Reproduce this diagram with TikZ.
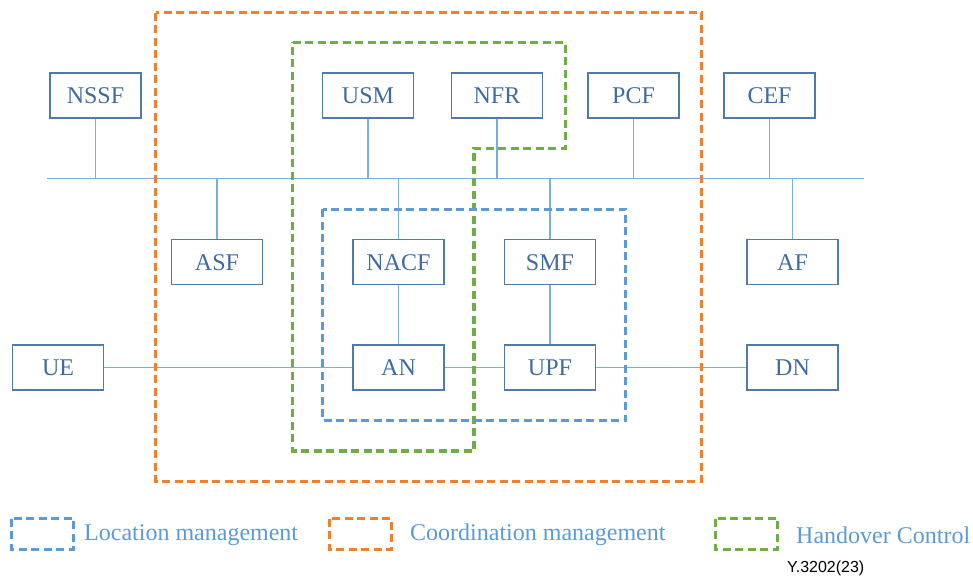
\documentclass[tikz,border=0pt]{standalone}
\usepackage{fontspec}
\setmainfont{Liberation Serif}
\newfontfamily\labelsans{Liberation Sans}
\definecolor{boxblue}{HTML}{5279A8}
\definecolor{txtblue}{HTML}{3F6B9E}
\definecolor{lineblue}{HTML}{7AAEE0}
\definecolor{zoneblue}{HTML}{5B9BD5}
\definecolor{zoneorange}{HTML}{F07F30}
\definecolor{zonegreen}{HTML}{70AD47}
\begin{document}
\begin{tikzpicture}[x=1pt,y=-1pt,
  nf/.style={draw=boxblue, line width=1.8pt, fill=white,
    minimum width=91pt, minimum height=45pt, inner sep=0pt,
    text=txtblue, font=\fontsize{24}{24}\selectfont,
    text height=16pt, text depth=0pt},
  link/.style={draw=lineblue, line width=1.5pt},
  zone/.style={line width=3.4pt, dash pattern=on 8pt off 4.5pt, line join=miter},
  legtext/.style={anchor=base west, inner sep=0pt, text=zoneblue,
    font=\fontsize{24}{24}\selectfont}]
\useasboundingbox (0,0) rectangle (973,575);

% service bus
\coordinate (busL) at (47,178.7);
\coordinate (busR) at (864,178.7);
\draw[link] (busL) -- (busR);

% network functions
\node[nf] (nssf) at (95.5,95.5) {NSSF};
\node[nf] (usm)  at (368,95.5) {USM};
\node[nf] (nfr)  at (497,95.5) {NFR};
\node[nf] (pcf)  at (633.5,95.5) {PCF};
\node[nf] (cef)  at (769.5,95.5) {CEF};
\node[nf] (asf)  at (217,262) {ASF};
\node[nf] (nacf) at (398.5,262) {NACF};
\node[nf] (smf)  at (550,262) {SMF};
\node[nf] (af)   at (792.5,262) {AF};
\node[nf] (ue)   at (58,367.5) {UE};
\node[nf] (an)   at (398.5,367.5) {AN};
\node[nf] (upf)  at (550,367.5) {UPF};
\node[nf] (dn)   at (792.5,367.5) {DN};

% bus attachments
\foreach \n in {nssf,usm,nfr,pcf,cef}
  \draw[link] (\n.south) -- (\n.south |- busL);
\foreach \n in {asf,nacf,smf,af}
  \draw[link] (\n.north) -- (\n.north |- busL);

% user plane and N2/N4 links
\draw[link] (ue) -- (an);
\draw[link] (an) -- (upf);
\draw[link] (upf) -- (dn);
\draw[link] (nacf) -- (an);
\draw[link] (smf) -- (upf);

% management zones
\draw[zone, draw=zoneorange] (155.7,12.7) rectangle (701.3,481.3);
\draw[zone, draw=zonegreen] (292.7,42.3) -- (565.3,42.3) -- (565.3,148.3)
  -- (474,148.3) -- (474,451) -- (292.7,451) -- cycle;
\draw[zone, draw=zoneblue] (322.7,209.3) rectangle (625.7,420.7);

% legend
\draw[zone, draw=zoneblue] (11.7,518.7) rectangle (73.7,549.3);
\node[legtext] (lgloc) at (84,540) {Location management};
\draw[zone, draw=zoneorange] (329.3,518.7) rectangle (391.7,549.3);
\node[legtext] (lgcoord) at (410,540) {Coordination management};
\draw[zone, draw=zonegreen] (715.7,518.7) rectangle (777.7,549.3);
\node[legtext] (lghand) at (796,543.3) {Handover Control};

\node[anchor=base west, inner sep=0pt, font=\labelsans\fontsize{16}{16}\selectfont]
  (tag) at (787,572) {Y.3202(23)};
\end{tikzpicture}
\end{document}
